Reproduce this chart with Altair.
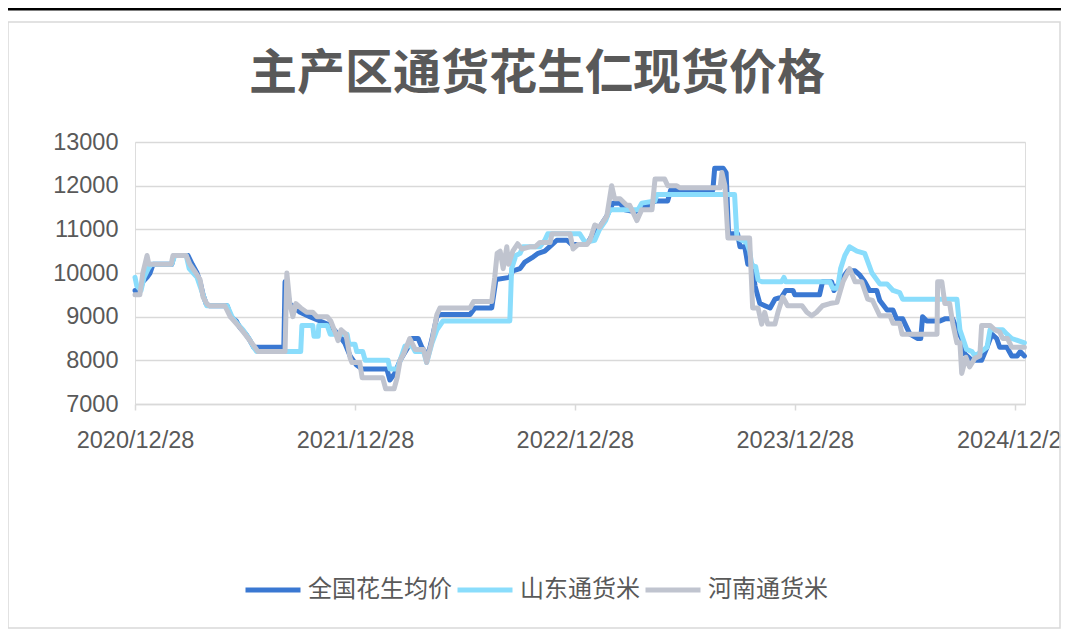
import altair as alt
import pandas as pd

TITLE = "主产区通货花生仁现货价格"
SERIES = ["全国花生均价", "山东通货米", "河南通货米"]
COLORS = ["#3A78D2", "#8ADDFC", "#C0C4CF"]

nat_dates = ["2020-12-28","2021-01-05","2021-01-10","2021-01-17","2021-01-22","2021-01-27","2021-02-27","2021-03-03","2021-03-26","2021-04-02","2021-04-10","2021-04-15","2021-04-20","2021-04-25","2021-04-30","2021-05-30","2021-06-05","2021-06-14","2021-06-20","2021-06-30","2021-07-07","2021-07-13","2021-09-01","2021-09-03","2021-09-11","2021-09-19","2021-09-28","2021-10-14","2021-10-31","2021-11-17","2021-11-30","2021-12-11","2021-12-20","2021-12-30","2022-01-09","2022-02-19","2022-02-24","2022-03-04","2022-03-13","2022-03-26","2022-04-02","2022-04-12","2022-04-18","2022-04-28","2022-05-05","2022-05-13","2022-05-18","2022-07-07","2022-07-15","2022-08-12","2022-08-19","2022-09-11","2022-09-16","2022-09-28","2022-10-06","2022-10-18","2022-10-28","2022-11-08","2022-11-20","2022-11-28","2022-12-15","2022-12-23","2023-01-10","2023-01-19","2023-01-27","2023-02-07","2023-02-19","2023-03-01","2023-03-13","2023-03-21","2023-04-07","2023-04-18","2023-05-01","2023-05-10","2023-05-31","2023-06-05","2023-08-14","2023-08-17","2023-08-31","2023-09-05","2023-09-09","2023-09-24","2023-09-28","2023-10-06","2023-10-11","2023-10-18","2023-10-23","2023-10-31","2023-11-17","2023-11-25","2023-12-06","2023-12-13","2023-12-25","2023-12-28","2024-02-07","2024-02-12","2024-02-27","2024-03-02","2024-03-12","2024-03-25","2024-04-06","2024-04-14","2024-04-22","2024-04-30","2024-05-12","2024-05-17","2024-05-29","2024-06-08","2024-06-14","2024-06-24","2024-07-06","2024-07-19","2024-07-24","2024-07-27","2024-08-03","2024-08-25","2024-09-02","2024-09-15","2024-09-22","2024-09-30","2024-10-05","2024-10-17","2024-11-02","2024-11-11","2024-11-19","2024-11-27","2024-12-02","2024-12-14","2024-12-22","2024-12-31","2025-01-05","2025-01-12"]
nat_values = [9600,9600,9800,9900,10000,10200,10200,10400,10400,10200,10000,9800,9500,9300,9250,9250,9000,8900,8750,8600,8450,8300,8300,9800,9300,9200,9100,9000,8900,8800,8600,8400,8100,7900,7800,7800,7550,7700,8000,8300,8500,8500,8300,8100,8500,9000,9050,9050,9200,9200,9850,9900,10050,10100,10250,10350,10450,10500,10650,10750,10750,10650,10650,10700,10900,11050,11300,11600,11600,11450,11400,11500,11550,11650,11650,11900,11900,12400,12400,12300,10900,10900,10600,10600,10200,10200,9700,9300,9200,9400,9450,9600,9600,9500,9500,9800,9800,9600,9800,10050,10050,9950,9800,9600,9600,9370,9150,9150,8950,8950,8600,8500,8500,9000,8900,8900,8950,8950,8700,8500,8150,8000,8000,8300,8600,8500,8300,8300,8100,8100,8200,8100]

sd_dates = ["2020-12-28","2020-12-31","2021-01-07","2021-01-12","2021-01-19","2021-01-24","2021-02-27","2021-03-04","2021-03-23","2021-03-28","2021-04-10","2021-04-15","2021-04-20","2021-04-26","2021-05-30","2021-06-07","2021-06-15","2021-06-25","2021-07-05","2021-07-13","2021-07-18","2021-09-29","2021-10-01","2021-10-19","2021-10-21","2021-10-28","2021-10-29","2021-11-12","2021-11-17","2021-12-15","2021-12-18","2021-12-28","2021-12-31","2022-01-10","2022-01-14","2022-02-21","2022-02-24","2022-03-08","2022-03-13","2022-03-21","2022-04-02","2022-04-07","2022-04-21","2022-04-26","2022-05-05","2022-05-13","2022-05-23","2022-09-11","2022-09-14","2022-09-21","2022-09-28","2022-10-03","2022-10-31","2022-11-08","2022-11-13","2023-01-05","2023-01-14","2023-01-30","2023-02-07","2023-02-17","2023-02-24","2023-04-12","2023-04-18","2023-05-10","2023-05-13","2023-09-19","2023-09-23","2023-10-09","2023-10-14","2023-10-18","2023-10-24","2023-10-28","2023-11-03","2023-12-06","2023-12-10","2023-12-13","2024-02-24","2024-02-29","2024-03-08","2024-03-13","2024-03-20","2024-03-28","2024-04-09","2024-04-22","2024-05-04","2024-05-17","2024-05-29","2024-06-08","2024-06-19","2024-06-24","2024-09-22","2024-09-27","2024-10-08","2024-10-17","2024-10-22","2024-11-11","2024-11-16","2024-12-07","2024-12-14","2024-12-22","2025-01-12"]
sd_values = [9900,9700,9600,9900,10100,10200,10200,10400,10400,10100,9900,9700,9500,9250,9250,9000,8850,8700,8500,8300,8200,8200,8800,8800,8550,8550,8800,8800,8600,8600,8370,8370,8200,8200,8000,8000,7800,7800,8000,8330,8330,8200,8200,7950,8400,8700,8900,8900,10100,10400,10450,10600,10600,10750,10900,10900,10700,10750,11000,11200,11450,11450,11600,11650,11800,11800,10800,10700,10500,10150,10150,9850,9800,9800,9900,9800,9800,9650,9650,10100,10400,10600,10500,10450,10000,9750,9750,9600,9550,9400,9400,8700,8250,8200,8100,8300,8700,8700,8600,8500,8400]

hn_dates = ["2020-12-28","2021-01-05","2021-01-10","2021-01-17","2021-01-20","2021-02-26","2021-03-01","2021-03-23","2021-03-29","2021-04-08","2021-04-15","2021-04-20","2021-04-26","2021-04-30","2021-05-26","2021-06-04","2021-06-20","2021-07-03","2021-07-15","2021-07-20","2021-09-03","2021-09-06","2021-09-11","2021-09-16","2021-09-21","2021-09-29","2021-10-09","2021-10-19","2021-10-26","2021-11-12","2021-11-18","2021-11-25","2021-11-30","2021-12-05","2021-12-13","2021-12-20","2021-12-23","2022-01-05","2022-01-09","2022-02-12","2022-02-17","2022-03-03","2022-03-08","2022-03-13","2022-03-19","2022-03-29","2022-04-07","2022-04-21","2022-04-26","2022-05-05","2022-05-13","2022-05-18","2022-07-07","2022-07-13","2022-08-12","2022-08-17","2022-08-21","2022-08-26","2022-08-31","2022-09-06","2022-09-09","2022-09-16","2022-09-24","2022-10-01","2022-10-14","2022-10-23","2022-10-31","2022-11-17","2022-11-20","2022-12-20","2022-12-25","2023-01-02","2023-01-17","2023-01-22","2023-01-30","2023-02-07","2023-02-19","2023-02-27","2023-03-04","2023-03-13","2023-03-24","2023-03-29","2023-04-10","2023-04-18","2023-05-05","2023-05-10","2023-05-26","2023-05-31","2023-06-15","2023-06-20","2023-08-26","2023-08-29","2023-09-03","2023-09-08","2023-10-14","2023-10-19","2023-10-28","2023-11-03","2023-11-08","2023-11-13","2023-11-25","2023-11-30","2023-12-08","2023-12-16","2024-01-09","2024-01-17","2024-01-25","2024-02-02","2024-02-12","2024-02-24","2024-03-07","2024-03-17","2024-03-28","2024-04-06","2024-04-17","2024-04-27","2024-05-05","2024-05-17","2024-06-03","2024-06-08","2024-06-19","2024-06-23","2024-08-20","2024-08-21","2024-08-28","2024-09-02","2024-09-10","2024-09-15","2024-09-22","2024-09-27","2024-09-30","2024-10-07","2024-10-13","2024-10-22","2024-10-30","2024-11-02","2024-11-16","2024-11-24","2024-12-02","2024-12-07","2024-12-15","2024-12-22","2025-01-12"]
hn_values = [9500,9500,10000,10400,10200,10200,10400,10400,10200,10000,9850,9450,9300,9250,9250,9000,8750,8520,8300,8200,8200,10000,9300,9000,9300,9200,9100,9100,9000,9000,8900,8650,8450,8700,8600,8050,7950,7950,7600,7600,7350,7350,7600,8000,8150,8500,8250,8250,7950,8450,9050,9200,9200,9350,9350,9900,10450,10500,10100,10600,10200,10500,10670,10550,10600,10600,10700,10700,10900,10900,10550,10650,10650,10750,11100,11050,11300,12000,11700,11700,11550,11550,11200,11450,11450,12150,12150,12000,12000,11950,11950,12300,12000,10800,10800,9200,9200,8830,9100,8830,8830,9100,9450,9250,9250,9100,9020,9100,9250,9300,9330,9800,10100,9800,9800,9400,9370,9020,9020,8850,8850,8600,8600,9800,9800,9300,9300,8850,8400,8400,7700,8070,7850,8050,8100,8800,8800,8700,8650,8500,8500,8300,8300]

Y_TICKS = [7000, 8000, 9000, 10000, 11000, 12000, 13000]
X_TICK_YEARS = [2020, 2021, 2022, 2023, 2024]

frames = []
for name, d, v in [(SERIES[0], nat_dates, nat_values), (SERIES[1], sd_dates, sd_values), (SERIES[2], hn_dates, hn_values)]:
    frames.append(pd.DataFrame({"date": d, "price": v, "series": name}))
df = pd.concat(frames, ignore_index=True)

x_enc = alt.X(
    "date:T",
    scale=alt.Scale(type="utc",
                    domain=[alt.DateTime(year=2020, month=12, date=28, utc=True),
                            alt.DateTime(year=2025, month=1, date=13, utc=True)]),
    axis=alt.Axis(
        title=None,
        values=[alt.DateTime(year=y, month=12, date=28, utc=True) for y in X_TICK_YEARS],
        labelExpr="utcFormat(datum.value, '%Y/%m/%d')",
        grid=False, domainColor="#D9D9D9", domainWidth=1.5,
        tickColor="#D9D9D9", tickWidth=1.5, tickSize=6,
        labelPadding=18, labelFontSize=23.5, labelColor="#595959",
        labelFont="Liberation Sans", labelFlush=False, labelOverlap=False,
    ),
)
y_enc = alt.Y(
    "price:Q",
    scale=alt.Scale(domain=[7000, 13000], nice=False, zero=False),
    axis=alt.Axis(
        title=None, values=Y_TICKS, format="d",
        grid=True, gridColor="#D9D9D9", gridWidth=1.5,
        domain=False, ticks=False, tickSize=0, labelPadding=17,
        labelFontSize=23.5, labelColor="#595959", labelFont="Liberation Sans",
    ),
)
color_enc = alt.Color(
    "series:N",
    scale=alt.Scale(domain=SERIES, range=COLORS),
    legend=alt.Legend(
        title=None, orient="none", legendX=108, legendY=418, direction="horizontal",
        symbolType="stroke", symbolSize=3025, symbolStrokeWidth=5,
        labelFontSize=24, labelColor="#595959", labelFont="Noto Sans CJK SC",
        labelOffset=5, columnPadding=-5, padding=0, labelLimit=300,
    ),
)

layers = []
for name in SERIES:
    layers.append(
        alt.Chart(df).transform_filter(alt.datum.series == name)
        .mark_line(strokeWidth=5, strokeJoin="round", strokeCap="round")
        .encode(x=x_enc, y=y_enc, color=color_enc)
    )

one = pd.DataFrame({"t": [TITLE]})
title_layer = alt.Chart(one).mark_text(
    font="Noto Sans CJK SC", fontSize=48, fontWeight="bold", color="#595959",
    align="center", baseline="middle",
).encode(text="t:N", x=alt.value(402), y=alt.value(-67))

top_line = alt.Chart(one).mark_rule(color="#000000", strokeWidth=3).encode(
    x=alt.value(-127), x2=alt.value(940), y=alt.value(-133))
frame = alt.Chart(one).mark_rect(fillOpacity=0, stroke="#D9D9D9", strokeWidth=1.5).encode(
    x=alt.value(-127), x2=alt.value(925), y=alt.value(-120), y2=alt.value(486))

chart = alt.layer(frame, top_line, *layers, title_layer).properties(
    width=890, height=262,
    autosize=alt.AutoSizeParams(type="none"),
    padding={"left": 127, "top": 134, "right": 36, "bottom": 228},
).configure_view(stroke=None).configure(background="white")

chart.save("out.html", embed_options={"renderer": "svg", "actions": False})
